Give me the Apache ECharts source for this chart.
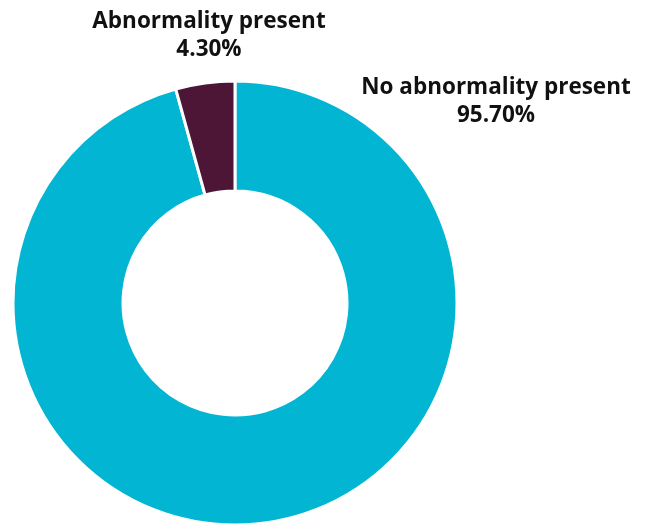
<!DOCTYPE html>
<html><head><meta charset="utf-8">
<script src="https://cdn.jsdelivr.net/npm/echarts@6/dist/echarts.min.js"></script>
<style>html,body{margin:0;padding:0;background:#fff}#c{width:652px;height:525px}</style>
</head><body><div id="c"></div>
<script>
const categories = ['No abnormality present', 'Abnormality present'];
const values = [95.7, 4.3];
const colors = ['#02B6D3', '#4D1637'];

const chart = echarts.init(document.getElementById('c'));
chart.setOption({
  animation: false,
  series: [{
    type: 'pie',
    center: [235, 303],
    radius: [112, 222],
    startAngle: 90,
    clockwise: true,
    data: categories.map((n, i) => ({ name: n, value: values[i], itemStyle: { color: colors[i] } })),
    itemStyle: { borderColor: '#fff', borderWidth: 3 },
    label: {
      show: true,
      position: 'outside',
      formatter: p => p.name + '\n' + p.value.toFixed(2) + '%',
      fontFamily: 'Open Sans',
      fontWeight: 'bold',
      fontSize: 22.5,
      lineHeight: 28,
      color: '#111',
      align: 'center',
      overflow: 'none',
      width: 400
    },
    labelLine: { show: false },
    labelLayout: function (p) {
      return p.dataIndex === 0
        ? { x: 496, y: 102, align: 'center', verticalAlign: 'middle' }
        : { x: 209, y: 36, align: 'center', verticalAlign: 'middle' };
    },
    emphasis: { disabled: true }
  }]
});
</script></body></html>
